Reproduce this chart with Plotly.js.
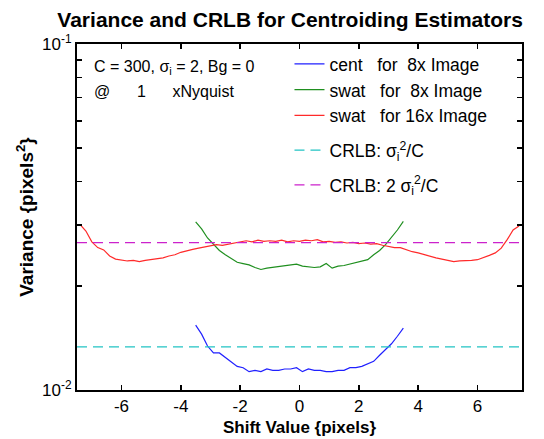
<!DOCTYPE html>
<html>
<head>
<meta charset="utf-8">
<script src="https://cdn.plot.ly/plotly-3.0.1.min.js"></script>
<style>html,body{margin:0;padding:0;background:#fff;}#chart{width:544px;height:439px;}</style>
</head>
<body>
<div id="chart"></div>
<script>
// Shift values (pixels)
const xCent8 = [-3.5,-3.3,-3.1,-2.9,-2.7,-2.5,-2.3,-2.1,-1.9,-1.7,-1.5,-1.3,-1.1,-0.9,-0.7,-0.5,-0.3,-0.1,0.1,0.3,0.5,0.7,0.9,1.1,1.3,1.5,1.7,1.9,2.1,2.3,2.5,2.7,2.9,3.1,3.3,3.5];
const yCent8 = [0.0154,0.0145,0.0134,0.0128,0.0128,0.0124,0.0120,0.0117,0.0116,0.0113,0.0114,0.0113,0.0115,0.0114,0.0114,0.0115,0.0115,0.0116,0.0113,0.0115,0.0114,0.0114,0.0113,0.0113,0.0114,0.0114,0.0116,0.0116,0.0117,0.0119,0.0121,0.0126,0.0131,0.0136,0.0143,0.0151];

const xSwat8 = [-3.5,-3.3,-3.1,-2.9,-2.7,-2.5,-2.3,-2.1,-1.9,-1.7,-1.5,-1.3,-1.1,-0.9,-0.7,-0.5,-0.3,-0.1,0.1,0.3,0.5,0.7,0.9,1.1,1.3,1.5,1.7,1.9,2.1,2.3,2.5,2.7,2.9,3.1,3.3,3.5];
const ySwat8 = [0.0306,0.0292,0.0275,0.0264,0.0253,0.0246,0.0240,0.0234,0.0232,0.0230,0.0226,0.0223,0.0225,0.0226,0.0228,0.0228,0.0230,0.0231,0.0228,0.0227,0.0226,0.0227,0.0232,0.0225,0.0228,0.0229,0.0231,0.0233,0.0235,0.0238,0.0246,0.0253,0.0263,0.0276,0.0290,0.0307];

const xSwat16 = [-7.4,-7.2,-7.0,-6.8,-6.6,-6.4,-6.2,-6.0,-5.8,-5.6,-5.4,-5.2,-5.0,-4.8,-4.6,-4.4,-4.2,-4.0,-3.8,-3.6,-3.4,-3.2,-3.0,-2.8,-2.6,-2.4,-2.2,-2.0,-1.8,-1.6,-1.4,-1.2,-1.0,-0.8,-0.6,-0.4,-0.2,0.0,0.2,0.4,0.6,0.8,1.0,1.2,1.4,1.6,1.8,2.0,2.2,2.4,2.6,2.8,3.0,3.2,3.4,3.6,3.8,4.0,4.2,4.4,4.6,4.8,5.0,5.2,5.4,5.6,5.8,6.0,6.2,6.4,6.6,6.8,7.0,7.2,7.4];
const ySwat16 = [0.0301,0.0288,0.0268,0.0258,0.0254,0.0244,0.0239,0.0237,0.0236,0.0237,0.0235,0.0237,0.0238,0.0240,0.0241,0.0244,0.0246,0.0250,0.0253,0.0255,0.0257,0.0259,0.0262,0.0263,0.0262,0.0264,0.0266,0.0268,0.0270,0.0268,0.0271,0.0269,0.0270,0.0269,0.0271,0.0268,0.0270,0.0269,0.0271,0.0270,0.0272,0.0268,0.0269,0.0267,0.0268,0.0266,0.0267,0.0265,0.0266,0.0264,0.0265,0.0262,0.0260,0.0258,0.0258,0.0254,0.0251,0.0249,0.0246,0.0244,0.0241,0.0239,0.0237,0.0235,0.0236,0.0236,0.0237,0.0238,0.0241,0.0245,0.0249,0.0257,0.0272,0.0290,0.0298];

// CRLB reference levels: sigma_i^2/C and 2 sigma_i^2/C with C=300, sigma_i=2
const crlbX = [-7.5, 7.5];
const crlb1 = [0.01333, 0.01333];
const crlb2 = [0.02667, 0.02667];

const xTickVals = [-6,-4,-2,0,2,4,6];
const yTickVals = [0.01,0.02,0.03,0.04,0.05,0.06,0.07,0.08,0.09,0.1];
const yTickText = ['10<sup>-2</sup>','','','','','','','','','10<sup>-1</sup>'];

const nb = '\u00a0';
const FONT = 'Liberation Sans, Arial, sans-serif';
const traces = [
  {x:xCent8, y:yCent8, mode:'lines', legendgroup:'a', name:'cent'+nb+nb+nb+'for'+nb+nb+'8x Image', line:{color:'#2020ff', width:1.2}},
  {x:xSwat8, y:ySwat8, mode:'lines', legendgroup:'a', name:'swat'+nb+nb+nb+'for'+nb+nb+'8x Image', line:{color:'#1f8f1f', width:1.2}},
  {x:xSwat16, y:ySwat16, mode:'lines', legendgroup:'a', name:'swat'+nb+nb+nb+'for 16x Image', line:{color:'#ff2a2a', width:1.2}},
  {x:crlbX, y:crlb1, mode:'lines', legendgroup:'b', name:'CRLB:'+nb+'σ<sub>i</sub><sup>2</sup>/C', line:{color:'#22c4c4', width:1.3, dash:'10px,6px'}},
  {x:crlbX, y:crlb2, mode:'lines', legendgroup:'c', name:'CRLB:'+nb+'2 σ<sub>i</sub><sup>2</sup>/C', line:{color:'#cc22cc', width:1.3, dash:'10px,6px'}}
];

const axisCommon = {
  showline:true, linecolor:'#000', linewidth:2, mirror:'ticks',
  ticks:'inside', ticklen:5, tickcolor:'#000', tickwidth:1.5,
  showgrid:false, zeroline:false,
  tickfont:{family:FONT, size:17, color:'#000'}
};

const layout = {
  width:544, height:439,
  margin:{l:77, r:22, t:44, b:49},
  paper_bgcolor:'#fff', plot_bgcolor:'#fff',
  title:{text:'<b>Variance and CRLB for Centroiding Estimators</b>', font:{family:FONT, size:21, color:'#000'}, x:0.479, xref:'paper', xanchor:'center', y:1-20/439, yref:'container', yanchor:'middle'},
  xaxis:Object.assign({}, axisCommon, {
    range:[-7.5,7.5], tickvals:xTickVals, ticktext:xTickVals.map(String),
    title:{text:'<b>Shift Value {pixels}</b>', font:{family:FONT, size:17, color:'#000'}, standoff:6}
  }),
  yaxis:Object.assign({}, axisCommon, {
    type:'log', range:[-2,-1], tickvals:yTickVals, ticktext:yTickText,
    tickfont:{family:FONT, size:17, color:'#000'},
    title:{text:'<b>Variance {pixels<sup>2</sup>}</b>', font:{family:FONT, size:19, color:'#000'}, standoff:3}
  }),
  showlegend:true,
  legend:{x:0.4775, xanchor:'left', y:0.994, yanchor:'top', bgcolor:'rgba(0,0,0,0)', borderwidth:0,
    traceorder:'grouped', tracegroupgap:9,
    font:{family:FONT, size:17.5, color:'#000'}},
  annotations:[
    {xref:'paper', yref:'paper', x:(92-77)/445, y:(390-67)/346, xanchor:'left', yanchor:'middle', showarrow:false,
     text:'C = 300, σ<sub>i</sub> = 2, Bg = 0', font:{family:FONT, size:16, color:'#000'}},
    {xref:'paper', yref:'paper', x:(92-77)/445, y:(390-91)/346, xanchor:'left', yanchor:'middle', showarrow:false,
     text:'@'+nb+nb+nb+nb+nb+nb+'1'+nb+nb+nb+nb+nb+nb+'xNyquist', font:{family:FONT, size:16, color:'#000'}}
  ]
};

Plotly.newPlot('chart', traces, layout, {displayModeBar:false, staticPlot:true});
</script>
</body>
</html>
